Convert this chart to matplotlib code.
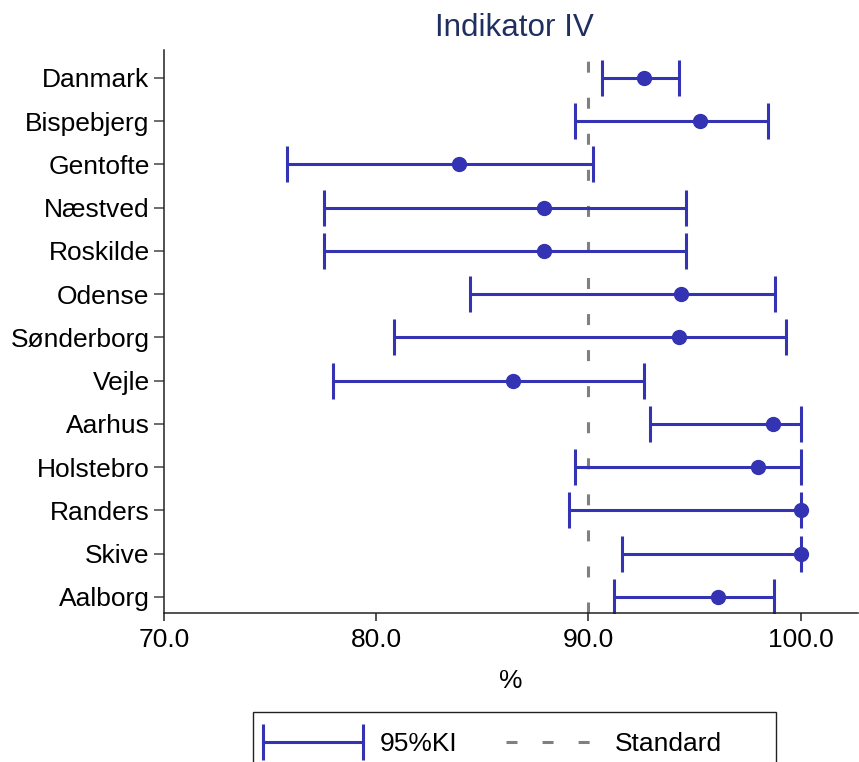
import matplotlib
matplotlib.use("Agg")
import matplotlib.pyplot as plt
from matplotlib.lines import Line2D
from matplotlib.patches import Rectangle
from matplotlib.legend_handler import HandlerLine2D
import numpy as np

plt.rcParams['font.family'] = ['Liberation Sans', 'DejaVu Sans']

categories = ["Danmark", "Bispebjerg", "Gentofte", "Næstved", "Roskilde", "Odense",
              "Sønderborg", "Vejle", "Aarhus", "Holstebro", "Randers", "Skive", "Aalborg"]
estimate = [92.6, 95.25, 83.9, 87.9, 87.9, 94.35, 94.25, 86.45, 98.7, 98.0, 100.0, 100.0, 96.1]
lower    = [90.63, 89.35, 75.8, 77.55, 77.55, 84.4, 80.85, 77.95, 92.9, 89.35, 89.1, 91.6, 91.2]
upper    = [94.25, 98.45, 90.2, 94.6, 94.6, 98.8, 99.3, 92.6, 100.0, 100.0, 100.0, 100.0, 98.75]
standard = 90.0
xticks = [70.0, 80.0, 90.0, 100.0]

blue = '#3333b3'
gray = '#808080'
fs = 19

W, H = 859, 762
fig = plt.figure(figsize=(W/100, H/100), dpi=100)
ax = fig.add_axes([164/W, 1-613/H, (858-164)/W, (613-50)/H])

n = len(categories)
y = np.arange(n)[::-1]
est = np.array(estimate)
lo = np.array(lower)
hi = np.array(upper)

ax.axvline(standard, color=gray, lw=2.2, dashes=(3.6, 8.2), zorder=1)
ax.errorbar(est, y, xerr=[est-lo, hi-est], fmt='none', ecolor=blue,
            elinewidth=2.2, capsize=13.3, capthick=2.2, zorder=2)
ax.plot(est, y, 'o', color=blue, markersize=10, zorder=3)

ax.set_xlim(70, 102.7)
ax.set_ylim(-0.37, 12.647)
ax.set_yticks(y)
ax.set_yticklabels(categories, fontsize=fs)
ax.set_xticks(xticks)
ax.set_xticklabels([f"{v:.1f}" for v in xticks], fontsize=fs)
ax.set_xlabel("%", fontsize=fs, labelpad=12)

for s in ['top', 'right']:
    ax.spines[s].set_visible(False)
for s in ['left', 'bottom']:
    ax.spines[s].set_linewidth(1.1)
    ax.spines[s].set_color('#222222')
ax.tick_params(axis='y', length=7.4, width=1.1, color='#444444', pad=3)
ax.tick_params(axis='x', length=6, width=1.1, color='#222222', pad=5)

fig.text(514/W, 1-28/H, "Indikator IV", ha='center', va='center',
         fontsize=22.6, color='#1f3060')

# legend
h1 = Line2D([0], [0], color=blue, lw=2.2, marker='|', markersize=26.6, mew=2.2)
h2 = Line2D([0], [0], color=gray, lw=2.2, dashes=(3.6, 8.2))
leg = fig.legend([h1, h2], ["95%KI", "Standard"], ncol=2, numpoints=2,
                 handler_map={h1: HandlerLine2D(marker_pad=0)},
                 loc='center left', bbox_to_anchor=(263/W, 1-744/H),
                 frameon=False, fontsize=fs, handlelength=3.79,
                 handletextpad=0.64, columnspacing=1.55, borderpad=0, borderaxespad=0)
fig.add_artist(Rectangle((253/W, -0.02), (776-253)/W, 0.02+(762-712)/H,
                         transform=fig.transFigure, fill=False, lw=1.0,
                         edgecolor='#222222', clip_on=False))

fig.savefig("out.png", dpi=100)
